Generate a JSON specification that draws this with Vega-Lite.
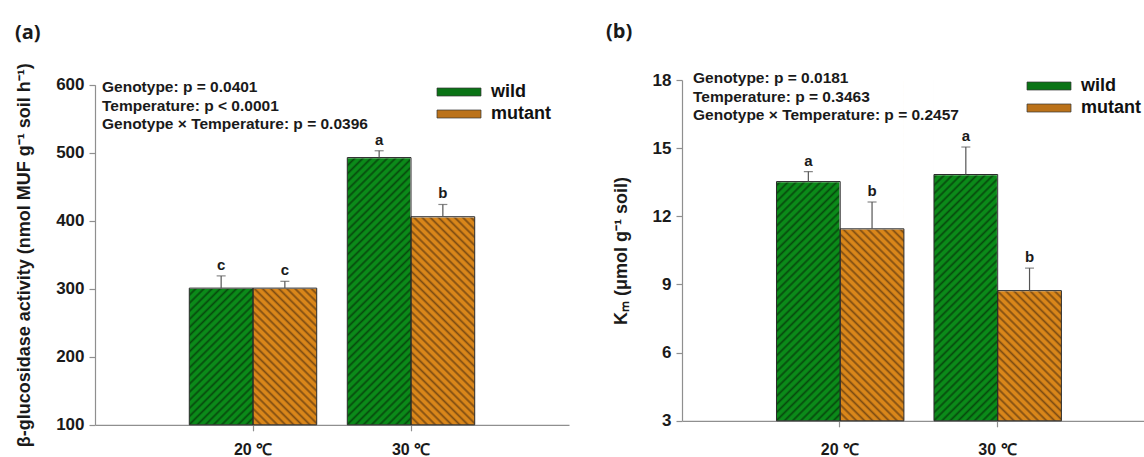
{
  "$schema": "https://vega.github.io/schema/vega-lite/v6.json",
  "background": "white",
  "padding": {"left": 15, "top": 22, "right": 0, "bottom": 0},
  "spacing": 37,
  "resolve": {"scale": {"fill": "independent"}, "legend": {"fill": "independent"}},
  "config": {
    "view": {"stroke": null},
    "font": "Liberation Sans",
    "axis": {"domainColor": "#8f8f8f", "domainWidth": 1.2, "tickColor": "#8f8f8f", "tickWidth": 1.2, "tickSize": 6, "grid": false, "labelFont": "Liberation Sans", "labelFontSize": 17, "labelFontWeight": "bold", "labelColor": "#1a1a1a", "titleFont": "Liberation Sans", "titleFontSize": 18, "titleFontWeight": "bold", "titleColor": "#1a1a1a"},
    "axisX": {"labelFontSize": 16},
    "axisY": {"labelPadding": 5, "titlePadding": 22},
    "legend": {"orient": "none", "title": null, "symbolType": "M-2.75,-0.5H2.75V0.5H-2.75Z", "symbolSize": 256, "symbolStrokeColor": "#333333", "symbolStrokeWidth": 0.7, "symbolOpacity": 1, "labelFont": "Liberation Sans", "labelFontSize": 18, "labelFontWeight": "bold", "labelColor": "#111111", "labelOffset": 23, "rowPadding": 4}
  },
  "hconcat": [
    {
      "width": 474,
      "height": 344.8,
      "title": {"text": "(a)", "anchor": "start", "frame": "group", "dx": -80, "offset": 20, "font": "Open Sans", "fontSize": 20, "fontWeight": "bold", "color": "#1a1a1a"},
      "layer": [
        {
          "data": {"values": [
            {"temp": "20 ℃", "genotype": "wild", "value": 301, "upper": 319, "letter": "c"},
            {"temp": "20 ℃", "genotype": "mutant", "value": 301, "upper": 311, "letter": "c"},
            {"temp": "30 ℃", "genotype": "wild", "value": 493, "upper": 503, "letter": "a"},
            {"temp": "30 ℃", "genotype": "mutant", "value": 406, "upper": 424, "letter": "b"}
          ]},
          "encoding": {
            "x": {"field": "temp", "type": "nominal", "sort": ["20 ℃", "30 ℃"], "scale": {"paddingInner": 0, "paddingOuter": 0.5}, "axis": {"title": null, "labelAngle": 0, "labelPadding": 11}},
            "xOffset": {"field": "genotype", "type": "nominal", "scale": {"domain": ["wild", "mutant"], "paddingInner": 0, "paddingOuter": 0.24}}
          },
          "layer": [
            {"transform": [{"filter": "datum.genotype === 'wild'"}],
             "mark": {"type": "bar", "stroke": null, "color": {"gradient": "linear", "x1": 0, "y1": 0, "x2": 0.2142, "y2": 1.1499, "stops": [
        {"offset":0,"color":"#074a0d"},{"offset":0.006,"color":"#0b8a19"},{"offset":0.014,"color":"#0b8a19"},
        {"offset":0.02,"color":"#074a0d"},{"offset":0.026,"color":"#0b8a19"},{"offset":0.034,"color":"#0b8a19"},
        {"offset":0.04,"color":"#074a0d"},{"offset":0.046,"color":"#0b8a19"},{"offset":0.054,"color":"#0b8a19"},
        {"offset":0.06,"color":"#074a0d"},{"offset":0.066,"color":"#0b8a19"},{"offset":0.074,"color":"#0b8a19"},
        {"offset":0.08,"color":"#074a0d"},{"offset":0.086,"color":"#0b8a19"},{"offset":0.094,"color":"#0b8a19"},
        {"offset":0.1,"color":"#074a0d"},{"offset":0.106,"color":"#0b8a19"},{"offset":0.114,"color":"#0b8a19"},
        {"offset":0.12,"color":"#074a0d"},{"offset":0.126,"color":"#0b8a19"},{"offset":0.134,"color":"#0b8a19"},
        {"offset":0.14,"color":"#074a0d"},{"offset":0.146,"color":"#0b8a19"},{"offset":0.154,"color":"#0b8a19"},
        {"offset":0.16,"color":"#074a0d"},{"offset":0.166,"color":"#0b8a19"},{"offset":0.174,"color":"#0b8a19"},
        {"offset":0.18,"color":"#074a0d"},{"offset":0.186,"color":"#0b8a19"},{"offset":0.194,"color":"#0b8a19"},
        {"offset":0.2,"color":"#074a0d"},{"offset":0.206,"color":"#0b8a19"},{"offset":0.214,"color":"#0b8a19"},
        {"offset":0.22,"color":"#074a0d"},{"offset":0.226,"color":"#0b8a19"},{"offset":0.234,"color":"#0b8a19"},
        {"offset":0.24,"color":"#074a0d"},{"offset":0.246,"color":"#0b8a19"},{"offset":0.254,"color":"#0b8a19"},
        {"offset":0.26,"color":"#074a0d"},{"offset":0.266,"color":"#0b8a19"},{"offset":0.274,"color":"#0b8a19"},
        {"offset":0.28,"color":"#074a0d"},{"offset":0.286,"color":"#0b8a19"},{"offset":0.294,"color":"#0b8a19"},
        {"offset":0.3,"color":"#074a0d"},{"offset":0.306,"color":"#0b8a19"},{"offset":0.314,"color":"#0b8a19"},
        {"offset":0.32,"color":"#074a0d"},{"offset":0.326,"color":"#0b8a19"},{"offset":0.334,"color":"#0b8a19"},
        {"offset":0.34,"color":"#074a0d"},{"offset":0.346,"color":"#0b8a19"},{"offset":0.354,"color":"#0b8a19"},
        {"offset":0.36,"color":"#074a0d"},{"offset":0.366,"color":"#0b8a19"},{"offset":0.374,"color":"#0b8a19"},
        {"offset":0.38,"color":"#074a0d"},{"offset":0.386,"color":"#0b8a19"},{"offset":0.394,"color":"#0b8a19"},
        {"offset":0.4,"color":"#074a0d"},{"offset":0.406,"color":"#0b8a19"},{"offset":0.414,"color":"#0b8a19"},
        {"offset":0.42,"color":"#074a0d"},{"offset":0.426,"color":"#0b8a19"},{"offset":0.434,"color":"#0b8a19"},
        {"offset":0.44,"color":"#074a0d"},{"offset":0.446,"color":"#0b8a19"},{"offset":0.454,"color":"#0b8a19"},
        {"offset":0.46,"color":"#074a0d"},{"offset":0.466,"color":"#0b8a19"},{"offset":0.474,"color":"#0b8a19"},
        {"offset":0.48,"color":"#074a0d"},{"offset":0.486,"color":"#0b8a19"},{"offset":0.494,"color":"#0b8a19"},
        {"offset":0.5,"color":"#074a0d"},{"offset":0.506,"color":"#0b8a19"},{"offset":0.514,"color":"#0b8a19"},
        {"offset":0.52,"color":"#074a0d"},{"offset":0.526,"color":"#0b8a19"},{"offset":0.534,"color":"#0b8a19"},
        {"offset":0.54,"color":"#074a0d"},{"offset":0.546,"color":"#0b8a19"},{"offset":0.554,"color":"#0b8a19"},
        {"offset":0.56,"color":"#074a0d"},{"offset":0.566,"color":"#0b8a19"},{"offset":0.574,"color":"#0b8a19"},
        {"offset":0.58,"color":"#074a0d"},{"offset":0.586,"color":"#0b8a19"},{"offset":0.594,"color":"#0b8a19"},
        {"offset":0.6,"color":"#074a0d"},{"offset":0.606,"color":"#0b8a19"},{"offset":0.614,"color":"#0b8a19"},
        {"offset":0.62,"color":"#074a0d"},{"offset":0.626,"color":"#0b8a19"},{"offset":0.634,"color":"#0b8a19"},
        {"offset":0.64,"color":"#074a0d"},{"offset":0.646,"color":"#0b8a19"},{"offset":0.654,"color":"#0b8a19"},
        {"offset":0.66,"color":"#074a0d"},{"offset":0.666,"color":"#0b8a19"},{"offset":0.674,"color":"#0b8a19"},
        {"offset":0.68,"color":"#074a0d"},{"offset":0.686,"color":"#0b8a19"},{"offset":0.694,"color":"#0b8a19"},
        {"offset":0.7,"color":"#074a0d"},{"offset":0.706,"color":"#0b8a19"},{"offset":0.714,"color":"#0b8a19"},
        {"offset":0.72,"color":"#074a0d"},{"offset":0.726,"color":"#0b8a19"},{"offset":0.734,"color":"#0b8a19"},
        {"offset":0.74,"color":"#074a0d"},{"offset":0.746,"color":"#0b8a19"},{"offset":0.754,"color":"#0b8a19"},
        {"offset":0.76,"color":"#074a0d"},{"offset":0.766,"color":"#0b8a19"},{"offset":0.774,"color":"#0b8a19"},
        {"offset":0.78,"color":"#074a0d"},{"offset":0.786,"color":"#0b8a19"},{"offset":0.794,"color":"#0b8a19"},
        {"offset":0.8,"color":"#074a0d"},{"offset":0.806,"color":"#0b8a19"},{"offset":0.814,"color":"#0b8a19"},
        {"offset":0.82,"color":"#074a0d"},{"offset":0.826,"color":"#0b8a19"},{"offset":0.834,"color":"#0b8a19"},
        {"offset":0.84,"color":"#074a0d"},{"offset":0.846,"color":"#0b8a19"},{"offset":0.854,"color":"#0b8a19"},
        {"offset":0.86,"color":"#074a0d"},{"offset":0.866,"color":"#0b8a19"},{"offset":0.874,"color":"#0b8a19"},
        {"offset":0.88,"color":"#074a0d"},{"offset":0.886,"color":"#0b8a19"},{"offset":0.894,"color":"#0b8a19"},
        {"offset":0.9,"color":"#074a0d"},{"offset":0.906,"color":"#0b8a19"},{"offset":0.914,"color":"#0b8a19"},
        {"offset":0.92,"color":"#074a0d"},{"offset":0.926,"color":"#0b8a19"},{"offset":0.934,"color":"#0b8a19"},
        {"offset":0.94,"color":"#074a0d"},{"offset":0.946,"color":"#0b8a19"},{"offset":0.954,"color":"#0b8a19"},
        {"offset":0.96,"color":"#074a0d"},{"offset":0.966,"color":"#0b8a19"},{"offset":0.974,"color":"#0b8a19"},
        {"offset":0.98,"color":"#074a0d"},{"offset":0.986,"color":"#0b8a19"},{"offset":0.994,"color":"#0b8a19"},
        {"offset":1,"color":"#074a0d"}]}},
             "encoding": {"y": {"datum": 600, "type": "quantitative", "scale": {"domain": [100, 600], "range": [344.8, 4.8], "nice": false, "zero": false}, "axis": {"title": "β-glucosidase activity (nmol MUF g⁻¹ soil h⁻¹)", "values": [100, 200, 300, 400, 500, 600]}}, "y2": {"datum": 100}}},
            {"transform": [{"filter": "datum.genotype === 'mutant'"}],
             "mark": {"type": "bar", "stroke": null, "color": {"gradient": "linear", "x1": 0, "y1": 1, "x2": 0.2142, "y2": -0.1499, "stops": [
        {"offset":0,"color":"#7d4c12"},{"offset":0.006,"color":"#d9861a"},{"offset":0.014,"color":"#d9861a"},
        {"offset":0.02,"color":"#7d4c12"},{"offset":0.026,"color":"#d9861a"},{"offset":0.034,"color":"#d9861a"},
        {"offset":0.04,"color":"#7d4c12"},{"offset":0.046,"color":"#d9861a"},{"offset":0.054,"color":"#d9861a"},
        {"offset":0.06,"color":"#7d4c12"},{"offset":0.066,"color":"#d9861a"},{"offset":0.074,"color":"#d9861a"},
        {"offset":0.08,"color":"#7d4c12"},{"offset":0.086,"color":"#d9861a"},{"offset":0.094,"color":"#d9861a"},
        {"offset":0.1,"color":"#7d4c12"},{"offset":0.106,"color":"#d9861a"},{"offset":0.114,"color":"#d9861a"},
        {"offset":0.12,"color":"#7d4c12"},{"offset":0.126,"color":"#d9861a"},{"offset":0.134,"color":"#d9861a"},
        {"offset":0.14,"color":"#7d4c12"},{"offset":0.146,"color":"#d9861a"},{"offset":0.154,"color":"#d9861a"},
        {"offset":0.16,"color":"#7d4c12"},{"offset":0.166,"color":"#d9861a"},{"offset":0.174,"color":"#d9861a"},
        {"offset":0.18,"color":"#7d4c12"},{"offset":0.186,"color":"#d9861a"},{"offset":0.194,"color":"#d9861a"},
        {"offset":0.2,"color":"#7d4c12"},{"offset":0.206,"color":"#d9861a"},{"offset":0.214,"color":"#d9861a"},
        {"offset":0.22,"color":"#7d4c12"},{"offset":0.226,"color":"#d9861a"},{"offset":0.234,"color":"#d9861a"},
        {"offset":0.24,"color":"#7d4c12"},{"offset":0.246,"color":"#d9861a"},{"offset":0.254,"color":"#d9861a"},
        {"offset":0.26,"color":"#7d4c12"},{"offset":0.266,"color":"#d9861a"},{"offset":0.274,"color":"#d9861a"},
        {"offset":0.28,"color":"#7d4c12"},{"offset":0.286,"color":"#d9861a"},{"offset":0.294,"color":"#d9861a"},
        {"offset":0.3,"color":"#7d4c12"},{"offset":0.306,"color":"#d9861a"},{"offset":0.314,"color":"#d9861a"},
        {"offset":0.32,"color":"#7d4c12"},{"offset":0.326,"color":"#d9861a"},{"offset":0.334,"color":"#d9861a"},
        {"offset":0.34,"color":"#7d4c12"},{"offset":0.346,"color":"#d9861a"},{"offset":0.354,"color":"#d9861a"},
        {"offset":0.36,"color":"#7d4c12"},{"offset":0.366,"color":"#d9861a"},{"offset":0.374,"color":"#d9861a"},
        {"offset":0.38,"color":"#7d4c12"},{"offset":0.386,"color":"#d9861a"},{"offset":0.394,"color":"#d9861a"},
        {"offset":0.4,"color":"#7d4c12"},{"offset":0.406,"color":"#d9861a"},{"offset":0.414,"color":"#d9861a"},
        {"offset":0.42,"color":"#7d4c12"},{"offset":0.426,"color":"#d9861a"},{"offset":0.434,"color":"#d9861a"},
        {"offset":0.44,"color":"#7d4c12"},{"offset":0.446,"color":"#d9861a"},{"offset":0.454,"color":"#d9861a"},
        {"offset":0.46,"color":"#7d4c12"},{"offset":0.466,"color":"#d9861a"},{"offset":0.474,"color":"#d9861a"},
        {"offset":0.48,"color":"#7d4c12"},{"offset":0.486,"color":"#d9861a"},{"offset":0.494,"color":"#d9861a"},
        {"offset":0.5,"color":"#7d4c12"},{"offset":0.506,"color":"#d9861a"},{"offset":0.514,"color":"#d9861a"},
        {"offset":0.52,"color":"#7d4c12"},{"offset":0.526,"color":"#d9861a"},{"offset":0.534,"color":"#d9861a"},
        {"offset":0.54,"color":"#7d4c12"},{"offset":0.546,"color":"#d9861a"},{"offset":0.554,"color":"#d9861a"},
        {"offset":0.56,"color":"#7d4c12"},{"offset":0.566,"color":"#d9861a"},{"offset":0.574,"color":"#d9861a"},
        {"offset":0.58,"color":"#7d4c12"},{"offset":0.586,"color":"#d9861a"},{"offset":0.594,"color":"#d9861a"},
        {"offset":0.6,"color":"#7d4c12"},{"offset":0.606,"color":"#d9861a"},{"offset":0.614,"color":"#d9861a"},
        {"offset":0.62,"color":"#7d4c12"},{"offset":0.626,"color":"#d9861a"},{"offset":0.634,"color":"#d9861a"},
        {"offset":0.64,"color":"#7d4c12"},{"offset":0.646,"color":"#d9861a"},{"offset":0.654,"color":"#d9861a"},
        {"offset":0.66,"color":"#7d4c12"},{"offset":0.666,"color":"#d9861a"},{"offset":0.674,"color":"#d9861a"},
        {"offset":0.68,"color":"#7d4c12"},{"offset":0.686,"color":"#d9861a"},{"offset":0.694,"color":"#d9861a"},
        {"offset":0.7,"color":"#7d4c12"},{"offset":0.706,"color":"#d9861a"},{"offset":0.714,"color":"#d9861a"},
        {"offset":0.72,"color":"#7d4c12"},{"offset":0.726,"color":"#d9861a"},{"offset":0.734,"color":"#d9861a"},
        {"offset":0.74,"color":"#7d4c12"},{"offset":0.746,"color":"#d9861a"},{"offset":0.754,"color":"#d9861a"},
        {"offset":0.76,"color":"#7d4c12"},{"offset":0.766,"color":"#d9861a"},{"offset":0.774,"color":"#d9861a"},
        {"offset":0.78,"color":"#7d4c12"},{"offset":0.786,"color":"#d9861a"},{"offset":0.794,"color":"#d9861a"},
        {"offset":0.8,"color":"#7d4c12"},{"offset":0.806,"color":"#d9861a"},{"offset":0.814,"color":"#d9861a"},
        {"offset":0.82,"color":"#7d4c12"},{"offset":0.826,"color":"#d9861a"},{"offset":0.834,"color":"#d9861a"},
        {"offset":0.84,"color":"#7d4c12"},{"offset":0.846,"color":"#d9861a"},{"offset":0.854,"color":"#d9861a"},
        {"offset":0.86,"color":"#7d4c12"},{"offset":0.866,"color":"#d9861a"},{"offset":0.874,"color":"#d9861a"},
        {"offset":0.88,"color":"#7d4c12"},{"offset":0.886,"color":"#d9861a"},{"offset":0.894,"color":"#d9861a"},
        {"offset":0.9,"color":"#7d4c12"},{"offset":0.906,"color":"#d9861a"},{"offset":0.914,"color":"#d9861a"},
        {"offset":0.92,"color":"#7d4c12"},{"offset":0.926,"color":"#d9861a"},{"offset":0.934,"color":"#d9861a"},
        {"offset":0.94,"color":"#7d4c12"},{"offset":0.946,"color":"#d9861a"},{"offset":0.954,"color":"#d9861a"},
        {"offset":0.96,"color":"#7d4c12"},{"offset":0.966,"color":"#d9861a"},{"offset":0.974,"color":"#d9861a"},
        {"offset":0.98,"color":"#7d4c12"},{"offset":0.986,"color":"#d9861a"},{"offset":0.994,"color":"#d9861a"},
        {"offset":1,"color":"#7d4c12"}]}},
             "encoding": {"y": {"datum": 600, "type": "quantitative"}, "y2": {"datum": 100}}},
            {"mark": {"type": "bar", "fill": "white", "stroke": "white", "strokeWidth": 1.5},
             "encoding": {"y": {"field": "value", "type": "quantitative"}, "y2": {"datum": 600}}},
            {"mark": {"type": "bar", "fillOpacity": 0, "stroke": "#2b2b2b", "strokeWidth": 1},
             "encoding": {"y": {"field": "value", "type": "quantitative"}, "y2": {"datum": 100},
               "fill": {"field": "genotype", "type": "nominal", "scale": {"domain": ["wild", "mutant"], "range": ["#0a7416", "#bb721a"]},
                 "legend": {"legendX": 355, "legendY": 3}}}},
            {"mark": {"type": "rule", "color": "#555555", "strokeWidth": 1.2},
             "encoding": {"y": {"field": "value", "type": "quantitative"}, "y2": {"field": "upper"}}},
            {"mark": {"type": "tick", "orient": "horizontal", "color": "#555555", "size": 9, "thickness": 1.2},
             "encoding": {"y": {"field": "upper", "type": "quantitative"}}},
            {"mark": {"type": "text", "baseline": "alphabetic", "dy": -6, "fontSize": 15, "fontWeight": "bold", "color": "#1a1a1a"},
             "encoding": {"y": {"field": "upper", "type": "quantitative"}, "text": {"field": "letter"}}}
          ]
        },
        {
          "data": {"values": [{"note": ["Genotype: p = 0.0401", "Temperature: p < 0.0001", "Genotype × Temperature: p = 0.0396"]}]},
          "mark": {"type": "text", "align": "left", "baseline": "top", "fontSize": 15.5, "fontWeight": "bold", "lineHeight": 18.5, "color": "#1a1a1a"},
          "encoding": {"x": {"value": 7}, "y": {"value": 0}, "text": {"field": "note"}}
        }
      ]
    },
    {
      "width": 463,
      "height": 340.8,
      "title": {"text": "(b)", "anchor": "start", "frame": "group", "dx": -76, "offset": 29, "font": "Open Sans", "fontSize": 20, "fontWeight": "bold", "color": "#1a1a1a"},
      "layer": [
        {
          "data": {"values": [
            {"temp": "20 ℃", "genotype": "wild", "value": 13.53, "upper": 13.97, "letter": "a"},
            {"temp": "20 ℃", "genotype": "mutant", "value": 11.45, "upper": 12.63, "letter": "b"},
            {"temp": "30 ℃", "genotype": "wild", "value": 13.84, "upper": 15.05, "letter": "a"},
            {"temp": "30 ℃", "genotype": "mutant", "value": 8.73, "upper": 9.72, "letter": "b"}
          ]},
          "encoding": {
            "x": {"field": "temp", "type": "nominal", "sort": ["20 ℃", "30 ℃"], "scale": {"paddingInner": 0, "paddingOuter": 0.47, "align": 0.535}, "axis": {"title": null, "labelAngle": 0, "labelPadding": 15}},
            "xOffset": {"field": "genotype", "type": "nominal", "scale": {"domain": ["wild", "mutant"], "paddingInner": 0, "paddingOuter": 0.24}}
          },
          "layer": [
            {"transform": [{"filter": "datum.genotype === 'wild'"}],
             "mark": {"type": "bar", "stroke": null, "color": {"gradient": "linear", "x1": 0, "y1": 0, "x2": 0.2142, "y2": 1.1499, "stops": [
        {"offset":0,"color":"#074a0d"},{"offset":0.006,"color":"#0b8a19"},{"offset":0.014,"color":"#0b8a19"},
        {"offset":0.02,"color":"#074a0d"},{"offset":0.026,"color":"#0b8a19"},{"offset":0.034,"color":"#0b8a19"},
        {"offset":0.04,"color":"#074a0d"},{"offset":0.046,"color":"#0b8a19"},{"offset":0.054,"color":"#0b8a19"},
        {"offset":0.06,"color":"#074a0d"},{"offset":0.066,"color":"#0b8a19"},{"offset":0.074,"color":"#0b8a19"},
        {"offset":0.08,"color":"#074a0d"},{"offset":0.086,"color":"#0b8a19"},{"offset":0.094,"color":"#0b8a19"},
        {"offset":0.1,"color":"#074a0d"},{"offset":0.106,"color":"#0b8a19"},{"offset":0.114,"color":"#0b8a19"},
        {"offset":0.12,"color":"#074a0d"},{"offset":0.126,"color":"#0b8a19"},{"offset":0.134,"color":"#0b8a19"},
        {"offset":0.14,"color":"#074a0d"},{"offset":0.146,"color":"#0b8a19"},{"offset":0.154,"color":"#0b8a19"},
        {"offset":0.16,"color":"#074a0d"},{"offset":0.166,"color":"#0b8a19"},{"offset":0.174,"color":"#0b8a19"},
        {"offset":0.18,"color":"#074a0d"},{"offset":0.186,"color":"#0b8a19"},{"offset":0.194,"color":"#0b8a19"},
        {"offset":0.2,"color":"#074a0d"},{"offset":0.206,"color":"#0b8a19"},{"offset":0.214,"color":"#0b8a19"},
        {"offset":0.22,"color":"#074a0d"},{"offset":0.226,"color":"#0b8a19"},{"offset":0.234,"color":"#0b8a19"},
        {"offset":0.24,"color":"#074a0d"},{"offset":0.246,"color":"#0b8a19"},{"offset":0.254,"color":"#0b8a19"},
        {"offset":0.26,"color":"#074a0d"},{"offset":0.266,"color":"#0b8a19"},{"offset":0.274,"color":"#0b8a19"},
        {"offset":0.28,"color":"#074a0d"},{"offset":0.286,"color":"#0b8a19"},{"offset":0.294,"color":"#0b8a19"},
        {"offset":0.3,"color":"#074a0d"},{"offset":0.306,"color":"#0b8a19"},{"offset":0.314,"color":"#0b8a19"},
        {"offset":0.32,"color":"#074a0d"},{"offset":0.326,"color":"#0b8a19"},{"offset":0.334,"color":"#0b8a19"},
        {"offset":0.34,"color":"#074a0d"},{"offset":0.346,"color":"#0b8a19"},{"offset":0.354,"color":"#0b8a19"},
        {"offset":0.36,"color":"#074a0d"},{"offset":0.366,"color":"#0b8a19"},{"offset":0.374,"color":"#0b8a19"},
        {"offset":0.38,"color":"#074a0d"},{"offset":0.386,"color":"#0b8a19"},{"offset":0.394,"color":"#0b8a19"},
        {"offset":0.4,"color":"#074a0d"},{"offset":0.406,"color":"#0b8a19"},{"offset":0.414,"color":"#0b8a19"},
        {"offset":0.42,"color":"#074a0d"},{"offset":0.426,"color":"#0b8a19"},{"offset":0.434,"color":"#0b8a19"},
        {"offset":0.44,"color":"#074a0d"},{"offset":0.446,"color":"#0b8a19"},{"offset":0.454,"color":"#0b8a19"},
        {"offset":0.46,"color":"#074a0d"},{"offset":0.466,"color":"#0b8a19"},{"offset":0.474,"color":"#0b8a19"},
        {"offset":0.48,"color":"#074a0d"},{"offset":0.486,"color":"#0b8a19"},{"offset":0.494,"color":"#0b8a19"},
        {"offset":0.5,"color":"#074a0d"},{"offset":0.506,"color":"#0b8a19"},{"offset":0.514,"color":"#0b8a19"},
        {"offset":0.52,"color":"#074a0d"},{"offset":0.526,"color":"#0b8a19"},{"offset":0.534,"color":"#0b8a19"},
        {"offset":0.54,"color":"#074a0d"},{"offset":0.546,"color":"#0b8a19"},{"offset":0.554,"color":"#0b8a19"},
        {"offset":0.56,"color":"#074a0d"},{"offset":0.566,"color":"#0b8a19"},{"offset":0.574,"color":"#0b8a19"},
        {"offset":0.58,"color":"#074a0d"},{"offset":0.586,"color":"#0b8a19"},{"offset":0.594,"color":"#0b8a19"},
        {"offset":0.6,"color":"#074a0d"},{"offset":0.606,"color":"#0b8a19"},{"offset":0.614,"color":"#0b8a19"},
        {"offset":0.62,"color":"#074a0d"},{"offset":0.626,"color":"#0b8a19"},{"offset":0.634,"color":"#0b8a19"},
        {"offset":0.64,"color":"#074a0d"},{"offset":0.646,"color":"#0b8a19"},{"offset":0.654,"color":"#0b8a19"},
        {"offset":0.66,"color":"#074a0d"},{"offset":0.666,"color":"#0b8a19"},{"offset":0.674,"color":"#0b8a19"},
        {"offset":0.68,"color":"#074a0d"},{"offset":0.686,"color":"#0b8a19"},{"offset":0.694,"color":"#0b8a19"},
        {"offset":0.7,"color":"#074a0d"},{"offset":0.706,"color":"#0b8a19"},{"offset":0.714,"color":"#0b8a19"},
        {"offset":0.72,"color":"#074a0d"},{"offset":0.726,"color":"#0b8a19"},{"offset":0.734,"color":"#0b8a19"},
        {"offset":0.74,"color":"#074a0d"},{"offset":0.746,"color":"#0b8a19"},{"offset":0.754,"color":"#0b8a19"},
        {"offset":0.76,"color":"#074a0d"},{"offset":0.766,"color":"#0b8a19"},{"offset":0.774,"color":"#0b8a19"},
        {"offset":0.78,"color":"#074a0d"},{"offset":0.786,"color":"#0b8a19"},{"offset":0.794,"color":"#0b8a19"},
        {"offset":0.8,"color":"#074a0d"},{"offset":0.806,"color":"#0b8a19"},{"offset":0.814,"color":"#0b8a19"},
        {"offset":0.82,"color":"#074a0d"},{"offset":0.826,"color":"#0b8a19"},{"offset":0.834,"color":"#0b8a19"},
        {"offset":0.84,"color":"#074a0d"},{"offset":0.846,"color":"#0b8a19"},{"offset":0.854,"color":"#0b8a19"},
        {"offset":0.86,"color":"#074a0d"},{"offset":0.866,"color":"#0b8a19"},{"offset":0.874,"color":"#0b8a19"},
        {"offset":0.88,"color":"#074a0d"},{"offset":0.886,"color":"#0b8a19"},{"offset":0.894,"color":"#0b8a19"},
        {"offset":0.9,"color":"#074a0d"},{"offset":0.906,"color":"#0b8a19"},{"offset":0.914,"color":"#0b8a19"},
        {"offset":0.92,"color":"#074a0d"},{"offset":0.926,"color":"#0b8a19"},{"offset":0.934,"color":"#0b8a19"},
        {"offset":0.94,"color":"#074a0d"},{"offset":0.946,"color":"#0b8a19"},{"offset":0.954,"color":"#0b8a19"},
        {"offset":0.96,"color":"#074a0d"},{"offset":0.966,"color":"#0b8a19"},{"offset":0.974,"color":"#0b8a19"},
        {"offset":0.98,"color":"#074a0d"},{"offset":0.986,"color":"#0b8a19"},{"offset":0.994,"color":"#0b8a19"},
        {"offset":1,"color":"#074a0d"}]}},
             "encoding": {"y": {"datum": 18, "type": "quantitative", "scale": {"domain": [3, 18], "nice": false, "zero": false}, "axis": {"title": "Kₘ (μmol g⁻¹ soil)", "values": [3, 6, 9, 12, 15, 18]}}, "y2": {"datum": 3}}},
            {"transform": [{"filter": "datum.genotype === 'mutant'"}],
             "mark": {"type": "bar", "stroke": null, "color": {"gradient": "linear", "x1": 0, "y1": 1, "x2": 0.2142, "y2": -0.1499, "stops": [
        {"offset":0,"color":"#7d4c12"},{"offset":0.006,"color":"#d9861a"},{"offset":0.014,"color":"#d9861a"},
        {"offset":0.02,"color":"#7d4c12"},{"offset":0.026,"color":"#d9861a"},{"offset":0.034,"color":"#d9861a"},
        {"offset":0.04,"color":"#7d4c12"},{"offset":0.046,"color":"#d9861a"},{"offset":0.054,"color":"#d9861a"},
        {"offset":0.06,"color":"#7d4c12"},{"offset":0.066,"color":"#d9861a"},{"offset":0.074,"color":"#d9861a"},
        {"offset":0.08,"color":"#7d4c12"},{"offset":0.086,"color":"#d9861a"},{"offset":0.094,"color":"#d9861a"},
        {"offset":0.1,"color":"#7d4c12"},{"offset":0.106,"color":"#d9861a"},{"offset":0.114,"color":"#d9861a"},
        {"offset":0.12,"color":"#7d4c12"},{"offset":0.126,"color":"#d9861a"},{"offset":0.134,"color":"#d9861a"},
        {"offset":0.14,"color":"#7d4c12"},{"offset":0.146,"color":"#d9861a"},{"offset":0.154,"color":"#d9861a"},
        {"offset":0.16,"color":"#7d4c12"},{"offset":0.166,"color":"#d9861a"},{"offset":0.174,"color":"#d9861a"},
        {"offset":0.18,"color":"#7d4c12"},{"offset":0.186,"color":"#d9861a"},{"offset":0.194,"color":"#d9861a"},
        {"offset":0.2,"color":"#7d4c12"},{"offset":0.206,"color":"#d9861a"},{"offset":0.214,"color":"#d9861a"},
        {"offset":0.22,"color":"#7d4c12"},{"offset":0.226,"color":"#d9861a"},{"offset":0.234,"color":"#d9861a"},
        {"offset":0.24,"color":"#7d4c12"},{"offset":0.246,"color":"#d9861a"},{"offset":0.254,"color":"#d9861a"},
        {"offset":0.26,"color":"#7d4c12"},{"offset":0.266,"color":"#d9861a"},{"offset":0.274,"color":"#d9861a"},
        {"offset":0.28,"color":"#7d4c12"},{"offset":0.286,"color":"#d9861a"},{"offset":0.294,"color":"#d9861a"},
        {"offset":0.3,"color":"#7d4c12"},{"offset":0.306,"color":"#d9861a"},{"offset":0.314,"color":"#d9861a"},
        {"offset":0.32,"color":"#7d4c12"},{"offset":0.326,"color":"#d9861a"},{"offset":0.334,"color":"#d9861a"},
        {"offset":0.34,"color":"#7d4c12"},{"offset":0.346,"color":"#d9861a"},{"offset":0.354,"color":"#d9861a"},
        {"offset":0.36,"color":"#7d4c12"},{"offset":0.366,"color":"#d9861a"},{"offset":0.374,"color":"#d9861a"},
        {"offset":0.38,"color":"#7d4c12"},{"offset":0.386,"color":"#d9861a"},{"offset":0.394,"color":"#d9861a"},
        {"offset":0.4,"color":"#7d4c12"},{"offset":0.406,"color":"#d9861a"},{"offset":0.414,"color":"#d9861a"},
        {"offset":0.42,"color":"#7d4c12"},{"offset":0.426,"color":"#d9861a"},{"offset":0.434,"color":"#d9861a"},
        {"offset":0.44,"color":"#7d4c12"},{"offset":0.446,"color":"#d9861a"},{"offset":0.454,"color":"#d9861a"},
        {"offset":0.46,"color":"#7d4c12"},{"offset":0.466,"color":"#d9861a"},{"offset":0.474,"color":"#d9861a"},
        {"offset":0.48,"color":"#7d4c12"},{"offset":0.486,"color":"#d9861a"},{"offset":0.494,"color":"#d9861a"},
        {"offset":0.5,"color":"#7d4c12"},{"offset":0.506,"color":"#d9861a"},{"offset":0.514,"color":"#d9861a"},
        {"offset":0.52,"color":"#7d4c12"},{"offset":0.526,"color":"#d9861a"},{"offset":0.534,"color":"#d9861a"},
        {"offset":0.54,"color":"#7d4c12"},{"offset":0.546,"color":"#d9861a"},{"offset":0.554,"color":"#d9861a"},
        {"offset":0.56,"color":"#7d4c12"},{"offset":0.566,"color":"#d9861a"},{"offset":0.574,"color":"#d9861a"},
        {"offset":0.58,"color":"#7d4c12"},{"offset":0.586,"color":"#d9861a"},{"offset":0.594,"color":"#d9861a"},
        {"offset":0.6,"color":"#7d4c12"},{"offset":0.606,"color":"#d9861a"},{"offset":0.614,"color":"#d9861a"},
        {"offset":0.62,"color":"#7d4c12"},{"offset":0.626,"color":"#d9861a"},{"offset":0.634,"color":"#d9861a"},
        {"offset":0.64,"color":"#7d4c12"},{"offset":0.646,"color":"#d9861a"},{"offset":0.654,"color":"#d9861a"},
        {"offset":0.66,"color":"#7d4c12"},{"offset":0.666,"color":"#d9861a"},{"offset":0.674,"color":"#d9861a"},
        {"offset":0.68,"color":"#7d4c12"},{"offset":0.686,"color":"#d9861a"},{"offset":0.694,"color":"#d9861a"},
        {"offset":0.7,"color":"#7d4c12"},{"offset":0.706,"color":"#d9861a"},{"offset":0.714,"color":"#d9861a"},
        {"offset":0.72,"color":"#7d4c12"},{"offset":0.726,"color":"#d9861a"},{"offset":0.734,"color":"#d9861a"},
        {"offset":0.74,"color":"#7d4c12"},{"offset":0.746,"color":"#d9861a"},{"offset":0.754,"color":"#d9861a"},
        {"offset":0.76,"color":"#7d4c12"},{"offset":0.766,"color":"#d9861a"},{"offset":0.774,"color":"#d9861a"},
        {"offset":0.78,"color":"#7d4c12"},{"offset":0.786,"color":"#d9861a"},{"offset":0.794,"color":"#d9861a"},
        {"offset":0.8,"color":"#7d4c12"},{"offset":0.806,"color":"#d9861a"},{"offset":0.814,"color":"#d9861a"},
        {"offset":0.82,"color":"#7d4c12"},{"offset":0.826,"color":"#d9861a"},{"offset":0.834,"color":"#d9861a"},
        {"offset":0.84,"color":"#7d4c12"},{"offset":0.846,"color":"#d9861a"},{"offset":0.854,"color":"#d9861a"},
        {"offset":0.86,"color":"#7d4c12"},{"offset":0.866,"color":"#d9861a"},{"offset":0.874,"color":"#d9861a"},
        {"offset":0.88,"color":"#7d4c12"},{"offset":0.886,"color":"#d9861a"},{"offset":0.894,"color":"#d9861a"},
        {"offset":0.9,"color":"#7d4c12"},{"offset":0.906,"color":"#d9861a"},{"offset":0.914,"color":"#d9861a"},
        {"offset":0.92,"color":"#7d4c12"},{"offset":0.926,"color":"#d9861a"},{"offset":0.934,"color":"#d9861a"},
        {"offset":0.94,"color":"#7d4c12"},{"offset":0.946,"color":"#d9861a"},{"offset":0.954,"color":"#d9861a"},
        {"offset":0.96,"color":"#7d4c12"},{"offset":0.966,"color":"#d9861a"},{"offset":0.974,"color":"#d9861a"},
        {"offset":0.98,"color":"#7d4c12"},{"offset":0.986,"color":"#d9861a"},{"offset":0.994,"color":"#d9861a"},
        {"offset":1,"color":"#7d4c12"}]}},
             "encoding": {"y": {"datum": 18, "type": "quantitative"}, "y2": {"datum": 3}}},
            {"mark": {"type": "bar", "fill": "white", "stroke": "white", "strokeWidth": 1.5},
             "encoding": {"y": {"field": "value", "type": "quantitative"}, "y2": {"datum": 18}}},
            {"mark": {"type": "bar", "fillOpacity": 0, "stroke": "#2b2b2b", "strokeWidth": 1},
             "encoding": {"y": {"field": "value", "type": "quantitative"}, "y2": {"datum": 3},
               "fill": {"field": "genotype", "type": "nominal", "scale": {"domain": ["wild", "mutant"], "range": ["#0a7416", "#bb721a"]},
                 "legend": {"legendX": 358, "legendY": -3}}}},
            {"mark": {"type": "rule", "color": "#555555", "strokeWidth": 1.2},
             "encoding": {"y": {"field": "value", "type": "quantitative"}, "y2": {"field": "upper"}}},
            {"mark": {"type": "tick", "orient": "horizontal", "color": "#555555", "size": 9, "thickness": 1.2},
             "encoding": {"y": {"field": "upper", "type": "quantitative"}}},
            {"mark": {"type": "text", "baseline": "alphabetic", "dy": -6, "fontSize": 15, "fontWeight": "bold", "color": "#1a1a1a"},
             "encoding": {"y": {"field": "upper", "type": "quantitative"}, "text": {"field": "letter"}}}
          ]
        },
        {
          "data": {"values": [{"note": ["Genotype: p = 0.0181", "Temperature: p = 0.3463", "Genotype × Temperature: p = 0.2457"]}]},
          "mark": {"type": "text", "align": "left", "baseline": "top", "fontSize": 15.5, "fontWeight": "bold", "lineHeight": 18.5, "color": "#1a1a1a"},
          "encoding": {"x": {"value": 11}, "y": {"value": -9}, "text": {"field": "note"}}
        }
      ]
    }
  ]
}
